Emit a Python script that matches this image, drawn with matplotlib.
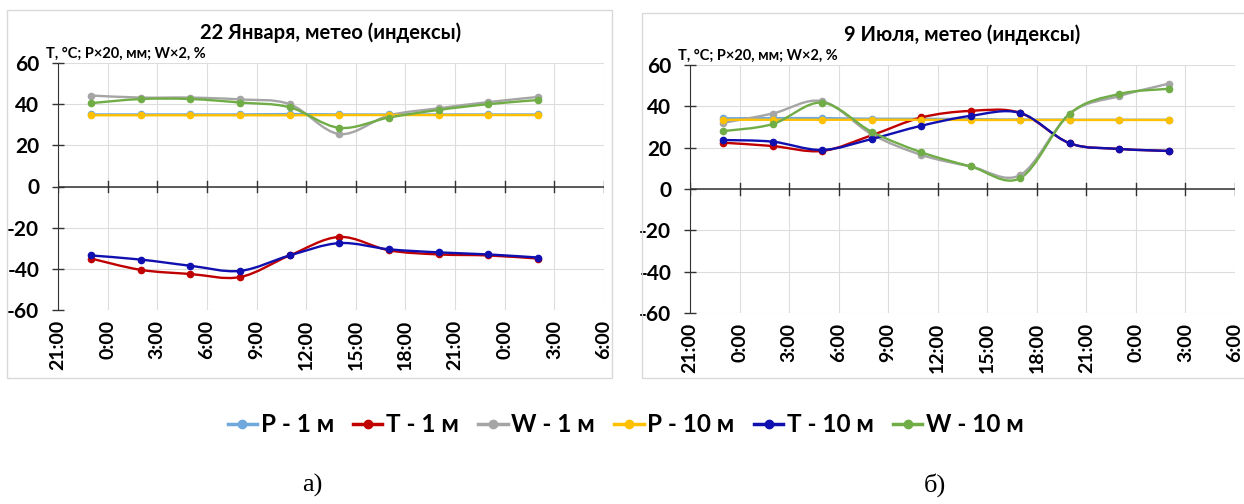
import numpy as np
import matplotlib.pyplot as plt
from matplotlib.path import Path
from matplotlib.patches import PathPatch, Rectangle
from matplotlib.lines import Line2D

plt.rcParams['font.family'] = ['Lato', 'Open Sans', 'DejaVu Sans']

# Ось времени: часы от 21:00 предыдущих суток
tick_hours = list(range(0, 34, 3))
tick_labels = ["21:00", "0:00", "3:00", "6:00", "9:00", "12:00", "15:00",
               "18:00", "21:00", "0:00", "3:00", "6:00"]
point_hours = [2, 5, 8, 11, 14, 17, 20, 23, 26, 29]

series_names = ["P - 1 м", "T - 1 м", "W - 1 м", "P - 10 м", "T - 10 м", "W - 10 м"]
series_colors = ["#6FA8DC", "#C00000", "#A5A5A5", "#FFC000", "#1010B0", "#70AD47"]

# 22 января
jan_p1 = [35.0, 35.0, 35.0, 35.0, 35.2, 35.0, 35.0, 35.0, 35.0, 35.0]
jan_t1 = [-35.0, -40.5, -42.5, -44.0, -33.5, -24.5, -31.0, -33.0, -33.5, -35.0]
jan_w1 = [44.2, 43.2, 43.2, 42.3, 40.0, 25.5, 34.5, 38.0, 41.0, 43.5]
jan_p10 = [34.6, 34.6, 34.6, 34.6, 34.6, 34.7, 34.7, 34.7, 34.7, 34.7]
jan_t10 = [-33.5, -35.5, -38.5, -41.0, -33.5, -27.5, -30.5, -32.0, -33.0, -34.5]
jan_w10 = [40.5, 42.5, 42.5, 40.8, 38.5, 28.5, 33.5, 37.2, 40.0, 42.0]

# 9 июля
jul_p1 = [34.2, 34.3, 34.3, 34.0, 34.0, 33.8, 33.6, 33.5, 33.5, 33.5]
jul_t1 = [22.4, 20.8, 18.4, 26.0, 34.6, 37.8, 36.8, 22.1, 19.4, 18.4]
jul_w1 = [32.0, 36.5, 42.5, 26.5, 16.5, 10.9, 6.8, 36.5, 45.0, 51.0]
jul_p10 = [33.5, 33.5, 33.5, 33.5, 33.5, 33.4, 33.4, 33.4, 33.4, 33.4]
jul_t10 = [23.7, 22.9, 18.9, 24.2, 30.6, 35.4, 36.8, 22.1, 19.4, 18.4]
jul_w10 = [28.0, 31.4, 41.8, 27.7, 17.8, 10.9, 5.3, 36.5, 46.0, 48.5]


def smooth_path(xs, ys):
    # сглаженная линия как в Excel (кривые Безье)
    pts = np.column_stack([xs, ys]).astype(float)
    n = len(pts)
    verts = [pts[0]]
    codes = [Path.MOVETO]
    for i in range(n - 1):
        p0 = pts[max(i - 1, 0)]
        p1 = pts[i]
        p2 = pts[i + 1]
        p3 = pts[min(i + 2, n - 1)]
        c1 = p1 + (p2 - p0) / 6.0
        c2 = p2 - (p3 - p1) / 6.0
        verts += [c1, c2, p2]
        codes += [Path.CURVE4] * 3
    return Path(verts, codes)


def draw_chart(ax, title, data):
    ax.set_xlim(0, 33)
    ax.set_ylim(-60, 60)
    ax.set_xticks(tick_hours)
    ax.set_xticklabels(tick_labels, rotation=90)
    ax.set_yticks(range(-60, 61, 20))
    ax.set_yticklabels([str(v) for v in range(-60, 61, 20)])
    ax.grid(True, color="#DDDDDD", linewidth=0.8)
    ax.set_axisbelow(True)
    for s in ["top", "right", "bottom"]:
        ax.spines[s].set_visible(False)
    ax.spines["left"].set_color("#333333")
    ax.tick_params(axis='y', direction='inout', length=9, width=1, color="#333333",
                   pad=9, labelsize=15)
    ax.tick_params(axis='x', length=0, pad=7, labelsize=14)
    for lab in ax.get_xticklabels() + ax.get_yticklabels():
        lab.set_fontweight('bold')
    # ось X на нуле
    ax.axhline(0, color="#333333", linewidth=1.1, zorder=2)
    for h in tick_hours:
        ax.plot([h, h], [-2.8, 2.8], color="#333333", linewidth=1, zorder=2)

    for ys, col in zip(data, series_colors):
        ax.add_patch(PathPatch(smooth_path(point_hours, ys), facecolor='none',
                               edgecolor=col, linewidth=1.7, zorder=3))
        ax.plot(point_hours, ys, 'o', color=col, markersize=4.5, zorder=4)

    ax.set_title(title, fontsize=14.5, fontweight='bold', pad=17)
    ax.text(-0.022, 1.01, "T, °C; P×20, мм; W×2, %", transform=ax.transAxes,
            fontsize=10.5, fontweight='bold', ha='left', va='bottom')


fig = plt.figure(figsize=(12.44, 5.04), dpi=100)

# рамки диаграмм
fig.patches.append(Rectangle((7 / 1244, 1 - 378 / 504), 605 / 1244, 368 / 504,
                             transform=fig.transFigure, fill=False,
                             edgecolor="#D9D9D9", linewidth=1))
fig.patches.append(Rectangle((642 / 1244, 1 - 378 / 504), 610 / 1244, 365 / 504,
                             transform=fig.transFigure, fill=False,
                             edgecolor="#D9D9D9", linewidth=1))

ax1 = fig.add_axes([58 / 1244, 1 - 310 / 504, 546 / 1244, 247 / 504])
ax2 = fig.add_axes([690 / 1244, 1 - 313 / 504, 545 / 1244, 248 / 504])

draw_chart(ax1, "22 Января, метео (индексы)",
           [jan_p1, jan_t1, jan_w1, jan_p10, jan_t10, jan_w10])
draw_chart(ax2, "9 Июля, метео (индексы)",
           [jul_p1, jul_t1, jul_w1, jul_p10, jul_t10, jul_w10])

handles = [Line2D([], [], color=c, linewidth=2.5, marker='o', markersize=6)
           for c in series_colors]
fig.legend(handles, series_names, loc='center', bbox_to_anchor=(0.503, 1 - 425 / 504),
           ncol=6, frameon=False, handlelength=1.2, handletextpad=0.15,
           columnspacing=0.8, prop={'weight': 'bold', 'size': 17.5})

fig.text(312 / 1244, 1 - 485 / 504, "а)", family=['Liberation Serif'], fontsize=19,
         ha='center', va='center')
fig.text(935 / 1244, 1 - 485 / 504, "б)", family=['Liberation Serif'], fontsize=19,
         ha='center', va='center')

fig.savefig("out.png", dpi=100)
